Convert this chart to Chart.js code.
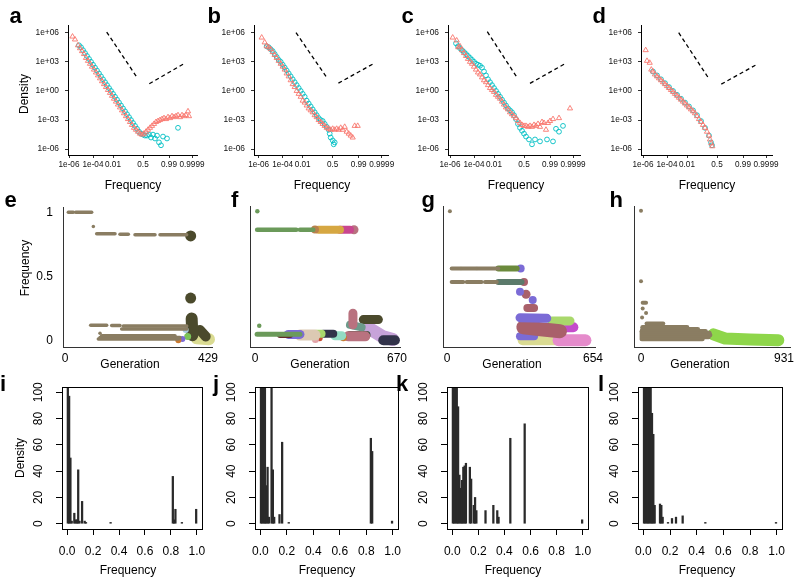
<!DOCTYPE html>
<html>
<head>
<meta charset="utf-8">
<script src="https://cdn.jsdelivr.net/npm/chart.js@4.4.1/dist/chart.umd.min.js"></script>
<style>
  body { margin: 0; background: #fff; width: 800px; height: 584px; position: relative; overflow: hidden;
         font-family: "Liberation Sans", Arial, Helvetica, sans-serif; }
  canvas { position: absolute; }
  .letter { position: absolute; font-weight: bold; font-size: 22px; line-height: 1; color: #000; }
  .ttl { position: absolute; font-size: 12px; line-height: 1; color: #000; white-space: nowrap;
         transform: translate(-50%, -50%); }
  .ttl.rot { transform: translate(-50%, -50%) rotate(-90deg); }
</style>
</head>
<body>
<script>
// ---------- data: top row (density of allele frequency, logit-ish x axis) ----------
// x is in axis units, ticks sit at TOP_X_TICKS; y is log10(density)
const TOP_X_TICKS = [0, 24, 44, 74, 100, 123];
const TOP_X_LABELS = ['1e-06', '1e-04', '0.01', '0.5', '0.99', '0.9999'];
const TOP_Y_TICKS = [-6, -3, 0, 3, 6];
const TOP_Y_LABELS = ['1e-06', '1e-03', '1e+00', '1e+03', '1e+06'];

const A_RED = [[3.5,5.6],[6,5.3],[9,4.7],[11,4.4],[13,4.1],[15,3.8],[17,3.4],[19,3.1],[21,2.8],[23,2.5],[25,2.2],[27,1.9],[29,1.6],[31,1.3],[33,1.0],[35,0.7],[37,0.4],[39,0.1],[41,-0.2],[43,-0.5],[45,-0.8],[47,-1.1],[49,-1.4],[51,-1.7],[53,-2.0],[55,-2.3],[57,-2.6],[59,-2.9],[61,-3.2],[63,-3.5],[65,-3.8],[67,-4.0],[69,-4.2],[71,-4.4],[73,-4.5],[75,-4.4],[77,-4.2],[79,-4.0],[81,-3.8],[83,-3.6],[85,-3.4],[87,-3.2],[89,-3.1],[91,-3.0],[93,-2.9],[95,-2.8],[97,-2.9],[99,-2.7],[101,-2.8],[103,-2.6],[105,-2.7],[107,-2.6],[109,-2.5],[111,-2.7],[113,-2.5],[115,-2.6],[117,-2.5],[119,-2.1],[120,-2.6]];
const A_CYAN = [[10,4.7],[12,4.5],[14,4.2],[16,3.9],[18,3.6],[20,3.3],[22,3.0],[24,2.7],[26,2.4],[28,2.1],[30,1.8],[32,1.5],[34,1.2],[36,0.9],[38,0.6],[40,0.3],[42,0.0],[44,-0.3],[46,-0.6],[48,-0.9],[50,-1.2],[52,-1.5],[54,-1.8],[56,-2.1],[58,-2.4],[60,-2.7],[62,-3.0],[64,-3.3],[66,-3.6],[68,-3.9],[70,-4.2],[72,-4.4],[74,-4.5],[76,-4.6],[78,-4.6],[80,-4.5],[82,-4.8],[84,-4.5],[86,-4.9],[88,-4.6],[90,-5.3],[92,-5.6],[94,-4.7],[98,-4.9],[109,-3.8]];
const A_GUIDES = [[[37.7,6.07],[67.7,1.44]], [[80.3,0.74],[115.3,2.83]]];

const B_RED = [[3,5.5],[6,5.0],[8,4.6],[10,4.5],[12,4.3],[14,4.0],[16,3.7],[18,3.4],[20,3.1],[22,2.8],[24,2.5],[26,2.2],[28,1.8],[30,1.5],[32,1.1],[34,0.7],[36,0.4],[38,0.0],[40,-0.3],[42,-0.6],[44,-1.0],[46,-1.2],[48,-1.5],[50,-1.8],[52,-2.0],[54,-2.2],[56,-2.5],[58,-2.7],[60,-3.0],[62,-3.2],[64,-3.4],[66,-3.6],[68,-3.8],[70,-3.9],[72,-4.0],[74,-3.9],[76,-4.0],[78,-3.9],[80,-4.0],[82,-3.8],[84,-4.0],[86,-3.7],[88,-4.2],[90,-4.4],[92,-4.6],[94,-4.8],[96,-3.6],[99,-3.6]];
const B_CYAN = [[8,4.6],[10,4.5],[12,4.3],[14,4.1],[16,3.8],[18,3.5],[20,3.2],[22,3.0],[24,2.7],[26,2.4],[28,2.1],[30,1.8],[32,1.5],[34,1.2],[36,0.9],[38,0.6],[40,0.3],[42,0.0],[44,-0.3],[46,-0.6],[48,-1.0],[50,-1.3],[52,-1.6],[54,-1.9],[56,-2.2],[58,-2.5],[60,-2.8],[62,-3.0],[64,-3.1],[66,-3.4],[68,-3.7],[70,-4.0],[71,-4.4],[72,-4.8],[74,-5.1],[75,-5.5],[76,-5.3]];
const B_GUIDES = [[[37.3,6.0],[67.3,1.5]], [[79.7,0.8],[114.7,2.8]]];

const C_RED = [[2.7,5.5],[6.7,5.2],[8.3,4.5],[10,4.6],[12,4.2],[14,3.9],[16,3.6],[18,3.3],[20,3.0],[22,2.8],[24,2.5],[26,2.2],[28,1.9],[30,1.7],[32,1.4],[34,1.1],[36,0.9],[38,0.6],[40,0.3],[42,0.1],[44,-0.1],[46,-0.4],[48,-0.6],[50,-0.8],[52,-1.1],[54,-1.4],[56,-1.7],[58,-1.9],[60,-2.2],[62,-2.4],[64,-2.6],[66,-2.8],[68,-3.1],[70,-3.3],[72,-3.5],[74,-3.6],[76,-3.6],[78,-3.7],[80,-3.6],[82,-3.7],[84,-3.5],[86,-3.6],[88,-3.4],[90,-3.7],[92,-3.2],[94,-3.3],[96,-4.0],[98,-3.3],[100,-3.1],[103,-2.9],[109,-2.8],[120,-1.8]];
const C_CYAN = [[6,4.9],[8,4.6],[10,4.4],[12,4.2],[14,4.0],[16,3.8],[18,3.6],[20,3.4],[22,3.2],[24,3.0],[26,2.8],[28,2.7],[30,2.6],[32,2.4],[34,2.0],[36,1.6],[38,1.2],[40,0.9],[42,0.6],[44,0.3],[46,0.0],[48,-0.3],[50,-0.6],[52,-0.9],[54,-1.2],[56,-1.5],[58,-1.8],[60,-2.0],[62,-2.2],[64,-2.5],[66,-2.9],[68,-3.4],[70,-3.8],[72,-4.1],[74,-4.4],[76,-4.7],[79,-5.0],[82,-5.5],[85,-5.0],[90,-5.2],[97,-5.0],[103,-5.2],[106,-3.9],[109,-4.2],[113,-3.6]];
const C_GUIDES = [[[37.3,6.1],[66.7,1.44]], [[80,0.78],[115,2.8]]];

const D_RED = [[2.7,4.2],[4,3.1],[6.7,2.9],[8.3,2.2],[10,2.0],[12,1.7],[14,1.5],[16,1.3],[18,1.1],[20,0.9],[22,0.7],[24,0.5],[26,0.3],[28,0.1],[30,-0.1],[32,-0.3],[34,-0.5],[36,-0.7],[38,-0.9],[40,-1.1],[42,-1.3],[44,-1.5],[46,-1.7],[48,-1.9],[50,-2.1],[52,-2.3],[54,-2.6],[56,-2.9],[58,-3.2],[60,-3.5],[62,-3.8],[64,-4.2],[66,-4.6],[67,-5.0],[68.3,-5.4],[69.3,-5.7]];
const D_CYAN = [[10,2.0],[14,1.6],[18,1.2],[22,0.8],[26,0.4],[30,0.0],[34,-0.4],[38,-0.8],[42,-1.2],[46,-1.6],[50,-2.0],[54,-2.5],[58,-3.1],[62,-3.8],[66,-4.6],[68,-5.3],[69,-5.6]];
const D_GUIDES = [[[35.7,6.0],[65,1.4]], [[78.3,0.7],[113.3,2.7]]];

// ---------- data: middle row (lineage frequency vs generation) ----------
// each run: [lineage, clone size, generations, frequencies]
const E_RUNS = [
  ['anc',3.5,[10,25],[1,1]], ['anc',3.5,[32,80],[1,1]], ['anc',3.5,[85],[0.89]],
  ['anc',3.5,[95,150],[0.832,0.832]], ['anc',3.5,[165,190],[0.828,0.828]],
  ['anc',3.5,[210,270],[0.825,0.825]], ['anc',3.5,[285,365],[0.825,0.825]],
  ['anc',3.5,[77,125],[0.118,0.118]], ['anc',3.5,[140,165],[0.115,0.115]],
  ['anc',3.5,[175,365],[0.112,0.112]], ['anc',3.5,[170,365],[0.088,0.088]],
  ['anc',3.5,[105],[0.055]], ['anc',3.5,[110,330],[0.035,0.035]],
  ['anc',3.5,[105,345],[0.022,0.022]], ['anc',3.5,[100,340],[0.01,0.01]],
  ['olive',11,[377],[0.815]], ['olive',11,[377],[0.33]],
  ['sky',6,[362],[0.08]], ['orange',6,[340],[0.0]], ['purple',6,[352],[0.01]],
  ['green',7,[368],[0.03]], ['olive',12,[380,382],[0.17,0.04]],
  ['olive',10,[405,422],[0.08,0.03]], ['cream',12,[395,432],[0.015,0.008]]
];
const F_RUNS = [
  ['fgreen',4.5,[11],[1.0]], ['fgreen',4.5,[10,195],[0.857,0.857]], ['fgreen',4.5,[212,275],[0.857,0.857]],
  ['tan',8,[283],[0.86]], ['gold',8,[299,401],[0.857,0.857]], ['magenta',8,[401,448],[0.857,0.857]],
  ['mauve',9,[467],[0.857]], ['fgreen',4.5,[20],[0.113]], ['fgreen',5,[10,212],[0.047,0.047]],
  ['maroon',6,[118,165],[0.04,0.04]], ['purple',9,[157,212],[0.045,0.045]],
  ['beige',11,[212,283],[0.04,0.04]], ['rose',7,[285],[0.005]], ['lime',8,[290,314],[0.05,0.05]],
  ['red',6,[305],[0.015]], ['navy',8,[322,369],[0.05,0.05]], ['yellow',6,[369],[0.055]],
  ['mint',9,[377,409],[0.035,0.035]], ['orange',7,[417],[0.02]],
  ['mauve',10,[440,520],[0.03,0.03]], ['mauve',9,[462,462],[0.21,0.12]],
  ['teal',8,[448,503],[0.12,0.1]], ['dgreen',8,[448,526],[0.04,0.04]],
  ['olive',9,[511,582],[0.16,0.16]], ['navy',10,[605,660],[0.0,0.0]],
  ['lavender',13,[540,600,650],[0.09,0.03,0.005]]
];
const G_RUNS = [
  ['anc',4,[13],[1.0]], ['anc',4,[21,60],[0.556,0.556]], ['anc',4,[65,130],[0.556,0.556]],
  ['anc',4,[135,230],[0.556,0.556]], ['anc',4,[21,73],[0.451,0.451]],
  ['anc',4,[88,155],[0.451,0.451]], ['anc',4,[170,223],[0.451,0.451]],
  ['gmoss',6,[230,312],[0.556,0.556]], ['purple',8,[330],[0.556]],
  ['slate',6,[230,334],[0.451,0.451]], ['brick',8,[345],[0.451]],
  ['purple',8,[327],[0.376]], ['brick',9,[354],[0.357]], ['purple',8,[384],[0.313]],
  ['brick',8,[360,390],[0.25,0.25]], ['purple',9,[327,447],[0.175,0.17]],
  ['brick',14,[342,420,506],[0.1,0.085,0.07]], ['lime',9,[470,551],[0.15,0.15]],
  ['violet',10,[492,566],[0.1,0.1]], ['purple',8,[327,390],[0.03,0.03]],
  ['pink',12,[500,620],[0.0,0.0]], ['cream',10,[339,496],[0.0,0.0]], ['bgreen',9,[500,615],[0.0,0.0]]
];
const H_RUNS = [
  ['anc',4,[0],[1.0]], ['anc',4,[0],[0.456]], ['anc',4,[11,33],[0.29,0.29]],
  ['anc',4,[11],[0.246]], ['anc',4,[33],[0.21]], ['anc',4,[7],[0.175]],
  ['anc',4,[36,145],[0.13,0.13]], ['anc',4.5,[10,300],[0.1,0.1]], ['anc',4.5,[10,370],[0.085,0.085]],
  ['anc',4.5,[5,420],[0.07,0.07]], ['anc',4.5,[5,445],[0.055,0.055]], ['anc',4.5,[5,450],[0.04,0.04]],
  ['anc',4.5,[5,440],[0.025,0.025]], ['anc',4.5,[5,400],[0.01,0.01]],
  ['hgreen',12,[471,547,710,894],[0.045,0.013,0.005,0.0]]
];
const GEN_MAX = { e: 429, f: 670, g: 654, h: 931 };

// ---------- data: bottom row (histograms, bin centre / density) ----------
const I_BINS = [0.005,0.015,0.025,0.035,0.055,0.065,0.075,0.085,0.095,0.115,0.135,0.145,0.335,0.815,0.825,0.835,0.885,0.995];
const I_DENS = [130,97,50,2,8,3,3,41,2,17,2,1,1,36,3,11,1,11];
const J_BINS = [0.005,0.015,0.025,0.035,0.045,0.055,0.065,0.085,0.095,0.105,0.145,0.165,0.215,0.835,0.845,0.995];
const J_DENS = [130,130,130,130,29,43,5,130,41,5,7,62,1,65,55,2];
const K_BINS = [0.005,0.015,0.025,0.035,0.045,0.055,0.065,0.075,0.085,0.095,0.105,0.135,0.145,0.165,0.175,0.185,0.255,0.315,0.345,0.355,0.445,0.555,0.995];
const K_DENS = [130,130,130,130,89,37,27,33,43,44,46,43,34,14,20,10,10,14,10,5,65,76,3];
const L_BINS = [0.005,0.015,0.025,0.035,0.045,0.055,0.065,0.075,0.085,0.125,0.135,0.145,0.185,0.215,0.245,0.295,0.465,0.995];
const L_DENS = [130,130,130,130,130,130,84,68,14,15,14,5,1,4,5,6,1,1];
const HIST_X_TICKS = [0, 0.2, 0.4, 0.6, 0.8, 1.0];
const HIST_Y_TICKS = [0, 20, 40, 60, 80, 100];

// ---------- styles ----------
const RED = '#F8766D';
const CYAN = '#00BFC4';
const LINEAGE_COLORS = {
  anc: '#8a7d62', olive: '#4b4a2c', sky: '#a9cde3', orange: '#c9792f', purple: '#7b6bd6',
  green: '#7cc45a', cream: '#dadb92', fgreen: '#6b9a5a', tan: '#b9804c', gold: '#d6a742',
  magenta: '#c9468f', mauve: '#b9727f', maroon: '#62282a', beige: '#dcc9b3', lime: '#a9d86c',
  rose: '#e3a2a8', red: '#c74b33', navy: '#32334a', yellow: '#e6df5a', mint: '#93dcc4',
  teal: '#6c9b8b', dgreen: '#2e4b32', lavender: '#c7a3d9', gmoss: '#6b8a3c', slate: '#5b7a6b',
  brick: '#a9606a', violet: '#c44ccb', pink: '#e58bcb', bgreen: '#8fdf50', hgreen: '#8ed64a'
};
const FONT = '"Liberation Sans", Arial, Helvetica, sans-serif';
const PAD_R = 16;   // room right of each plot for the last tick label

Chart.defaults.font.family = FONT;
Chart.defaults.animation = false;
Chart.defaults.events = [];
Chart.defaults.plugins.legend.display = false;
Chart.defaults.plugins.tooltip.enabled = false;

function makeCanvas(x, y, w, h) {
  const c = document.createElement('canvas');
  c.width = w; c.height = h;
  c.style.left = x + 'px'; c.style.top = y + 'px';
  c.style.width = w + 'px'; c.style.height = h + 'px';
  document.body.appendChild(c);
  return c.getContext('2d');
}
function fixSize(size) {
  return (s) => {
    if (s.isHorizontal()) s.height = size; else s.width = size;
    s.paddingLeft = s.paddingRight = s.paddingTop = s.paddingBottom = 0;
  };
}
function setTicks(values) {
  return (s) => { s.ticks = values.map(v => ({ value: v })); };
}
const pts = (arr) => arr.map(([x, y]) => ({ x, y }));

// ---------- top row ----------
function initTopPanel(P) {
  const ctx = makeCanvas(P.left, 21, P.width + PAD_R, 159);
  const tickGrid = { display: true, drawOnChartArea: false, drawTicks: true, tickLength: 3, color: '#333', lineWidth: 1 };
  const axBorder = { display: true, color: '#000', width: 1 };
  new Chart(ctx, {
    type: 'scatter',
    data: {
      datasets: [
        { data: pts(P.red), pointStyle: 'triangle', pointRadius: 3, pointBorderWidth: 0.9,
          pointBorderColor: RED, pointBackgroundColor: 'rgba(0,0,0,0)' },
        { data: pts(P.cyan), pointStyle: 'circle', pointRadius: 2.4, pointBorderWidth: 0.9,
          pointBorderColor: CYAN, pointBackgroundColor: 'rgba(0,0,0,0)' },
        ...P.guides.map(g => ({ data: pts(g), showLine: true, borderColor: '#000', borderWidth: 1.3,
          borderDash: [4, 3], pointRadius: 0 }))
      ]
    },
    options: {
      responsive: false, devicePixelRatio: 1, layout: { padding: { right: PAD_R } },
      scales: {
        x: { type: 'linear', min: P.xmin, max: P.xmax, afterBuildTicks: setTicks(TOP_X_TICKS), afterFit: fixSize(25),
             ticks: { autoSkip: false, maxRotation: 0, minRotation: 0, padding: 2, color: '#111',
                      font: { size: 8.2 }, callback: (v, i) => TOP_X_LABELS[i] },
             grid: tickGrid, border: axBorder },
        y: { type: 'linear', min: -6.6, max: 6.7, afterBuildTicks: setTicks(TOP_Y_TICKS), afterFit: fixSize(P.yAxisW),
             ticks: { padding: 6, color: '#111', font: { size: 8.4 }, callback: (v, i) => TOP_Y_LABELS[i] },
             grid: tickGrid, border: axBorder }
      }
    }
  });
}

// ---------- middle row ----------
function runDatasets(runs) {
  return runs.map(([lin, size, gens, freqs]) => {
    const col = LINEAGE_COLORS[lin];
    const single = gens.length === 1;
    return {
      data: gens.map((g, i) => ({ x: g, y: freqs[i] })),
      showLine: !single, borderColor: col, backgroundColor: col, borderWidth: size,
      borderCapStyle: 'round', borderJoinStyle: 'round', tension: 0,
      pointRadius: single ? size / 2 : 0, pointBackgroundColor: col, pointBorderWidth: 0,
      clip: false
    };
  });
}
function initMidPanel(P) {
  const ctx = makeCanvas(P.left, 202, P.width + PAD_R, 167);
  const axBorder = { display: true, color: '#333', width: 1 };
  const noGrid = { display: false, drawTicks: false };
  new Chart(ctx, {
    type: 'scatter',
    data: { datasets: runDatasets(P.runs) },
    options: {
      responsive: false, devicePixelRatio: 1, layout: { padding: { right: PAD_R } },
      scales: {
        x: { type: 'linear', min: P.xmin, max: P.xmax, afterBuildTicks: setTicks([0, P.genMax]), afterFit: fixSize(22),
             ticks: { autoSkip: false, maxRotation: 0, minRotation: 0, padding: 4, color: '#000',
                      font: { size: 12 }, callback: (v) => String(v) },
             grid: noGrid, border: axBorder },
        y: { type: 'linear', min: -0.0526, max: 1.0376, afterBuildTicks: setTicks([0, 0.5, 1]), afterFit: fixSize(P.yAxisW),
             ticks: { display: P.showY, padding: 10, color: '#000', font: { size: 12 }, callback: (v) => String(v) },
             grid: noGrid, border: axBorder }
      }
    }
  });
}

// ---------- bottom row ----------
const rBoxPlugin = {
  id: 'rBox',
  afterDraw(chart) {
    const { ctx, chartArea: a } = chart;
    const y = chart.scales.y;
    ctx.save();
    ctx.strokeStyle = '#000'; ctx.lineWidth = 1;
    ctx.strokeRect(Math.round(a.left) + 0.5, Math.round(a.top) + 0.5,
                   Math.round(a.right - a.left), Math.round(a.bottom - a.top));
    ctx.fillStyle = '#000'; ctx.font = '12px ' + FONT;
    ctx.textAlign = 'center'; ctx.textBaseline = 'middle';
    y.ticks.forEach(t => {
      ctx.save();
      ctx.translate(a.left - 23, y.getPixelForValue(t.value));
      ctx.rotate(-Math.PI / 2);
      ctx.fillText(String(t.value), 0, 0);
      ctx.restore();
    });
    ctx.restore();
  }
};
function initHistPanel(P) {
  const ctx = makeCanvas(P.left, 370, P.width + PAD_R, 209);
  const tickGrid = { display: true, drawOnChartArea: false, drawTicks: true, tickLength: 6, color: '#000', lineWidth: 1, offset: false };
  new Chart(ctx, {
    type: 'bar',
    data: { datasets: [{ data: P.bins.map((b, i) => ({ x: b, y: P.dens[i] })), backgroundColor: '#2a2a2a',
                         borderWidth: 0, barThickness: 1.6, clip: 0 }] },
    options: {
      responsive: false, devicePixelRatio: 1, layout: { padding: { top: 17, right: PAD_R } },
      scales: {
        x: { type: 'linear', offset: false, min: -0.04, max: 1.04, afterBuildTicks: setTicks(HIST_X_TICKS), afterFit: fixSize(50),
             ticks: { autoSkip: false, maxRotation: 0, minRotation: 0, padding: 9, color: '#000',
                      font: { size: 12 }, callback: (v) => v.toFixed(1) },
             grid: tickGrid, border: { display: false } },
        y: { type: 'linear', min: -4, max: 104, afterBuildTicks: setTicks(HIST_Y_TICKS), afterFit: fixSize(P.yAxisW),
             ticks: { display: false }, grid: tickGrid, border: { display: false } }
      }
    },
    plugins: [rBoxPlugin]
  });
}

// ---------- layout ----------
[
  { left: 0,   width: 197, yAxisW: 68, xmin: -1,   xmax: 128,   red: A_RED, cyan: A_CYAN, guides: A_GUIDES },
  { left: 200, width: 188, yAxisW: 54, xmin: -4.7, xmax: 129.3, red: B_RED, cyan: B_CYAN, guides: B_GUIDES },
  { left: 400, width: 180, yAxisW: 48, xmin: -2,   xmax: 130,   red: C_RED, cyan: C_CYAN, guides: C_GUIDES },
  { left: 600, width: 172, yAxisW: 41, xmin: -2,   xmax: 129,   red: D_RED, cyan: D_CYAN, guides: D_GUIDES }
].forEach(initTopPanel);

[
  { left: 0,   width: 212, yAxisW: 63, xmin: -6,    xmax: 441, genMax: GEN_MAX.e, runs: E_RUNS, showY: true },
  { left: 200, width: 200, yAxisW: 50, xmin: -23.6, xmax: 684, genMax: GEN_MAX.f, runs: F_RUNS, showY: false },
  { left: 400, width: 195, yAxisW: 43, xmin: -17.9, xmax: 663, genMax: GEN_MAX.g, runs: G_RUNS, showY: false },
  { left: 600, width: 190, yAxisW: 34, xmin: -45.6, xmax: 970, genMax: GEN_MAX.h, runs: H_RUNS, showY: false }
].forEach(initMidPanel);

[
  { left: 0,   width: 202, yAxisW: 62, bins: I_BINS, dens: I_DENS },
  { left: 200, width: 198, yAxisW: 55, bins: J_BINS, dens: J_DENS },
  { left: 400, width: 188, yAxisW: 47, bins: K_BINS, dens: K_DENS },
  { left: 600, width: 182, yAxisW: 38, bins: L_BINS, dens: L_DENS }
].forEach(initHistPanel);

// panel letters and axis titles
function addDiv(cls, text, x, y) {
  const d = document.createElement('div');
  d.className = cls; d.textContent = text;
  d.style.left = x + 'px'; d.style.top = y + 'px';
  document.body.appendChild(d);
}
[['a',9.5,4.7],['b',207.5,4.7],['c',401.5,4.7],['d',592.5,4.7],
 ['e',4.5,189],['f',231,189],['g',421.5,189],['h',609.5,189],
 ['i',0,373],['j',213,373],['k',396,373],['l',598,373]].forEach(([t, x, y]) => addDiv('letter', t, x, y));

[['Frequency',133,185],['Frequency',322,185],['Frequency',516,185],['Frequency',707,185],
 ['Generation',130,364],['Generation',320,364],['Generation',512,364],['Generation',700,364],
 ['Frequency',128,570],['Frequency',327,570],['Frequency',513,570],['Frequency',707,570]]
  .forEach(([t, x, y]) => addDiv('ttl', t, x, y));
[['Density',24,94],['Frequency',25,268],['Density',20,458]].forEach(([t, x, y]) => addDiv('ttl rot', t, x, y));
</script>
</body>
</html>
